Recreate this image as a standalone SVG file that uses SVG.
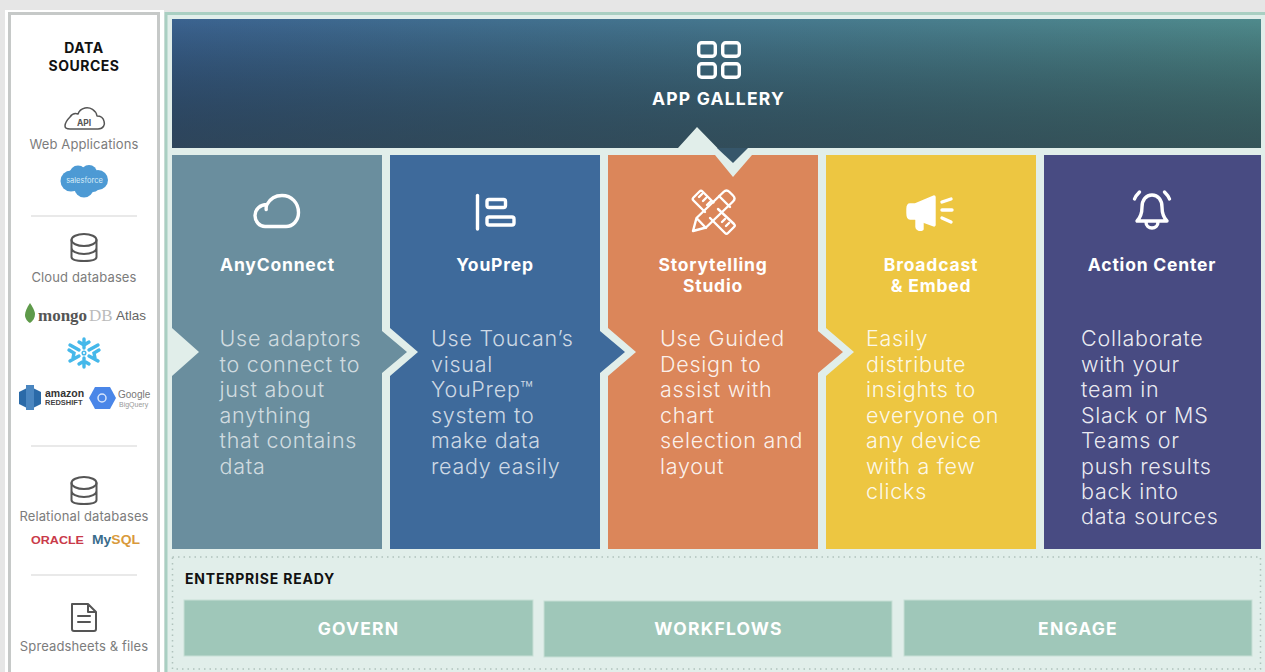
<svg xmlns="http://www.w3.org/2000/svg" width="1265" height="672" viewBox="0 0 1265 672">
<style>
text{font-family:"Inter","Liberation Sans",sans-serif}
.h{font-weight:700;fill:#fff;font-size:17.500px;text-anchor:middle;letter-spacing:.8px}
.b{font-weight:300;font-size:21.500px;fill:#fff;letter-spacing:.75px}
.d{font-size:13px;fill:#7c7c7c;text-anchor:middle;font-weight:400;letter-spacing:.12px}
.i{fill:none;stroke:#fff;stroke-width:3.400;stroke-linecap:round;stroke-linejoin:round}
.g{fill:none;stroke:#555;stroke-width:2;stroke-linecap:round;stroke-linejoin:round}
.sep{stroke:#e2e2e2;stroke-width:1.500}
.e{fill:#9fc7b9;stroke:#c8dfd6;stroke-width:1}
.et{font-weight:700;font-size:17.500px;fill:#fff;text-anchor:middle;letter-spacing:1.200px}
.ds{font-size:14px;font-weight:700;text-anchor:middle;fill:#111;letter-spacing:.5px}
.la{font-family:"Liberation Sans",sans-serif}
</style>
<defs>
<linearGradient id="gal" x1="0" y1="0" x2="0" y2="1"><stop offset="0" stop-color="#000" stop-opacity="0"/><stop offset="1" stop-color="#26333a" stop-opacity=".62"/></linearGradient>
<linearGradient id="galh" x1="0" y1="0" x2="1" y2="0"><stop offset="0" stop-color="#3b6390"/><stop offset="1" stop-color="#4f8a8c"/></linearGradient>
</defs>
<rect width="1265" height="672" fill="#e6e6e6"/>
<g id="data-sources">
<rect x="5" y="10" width="159" height="672" fill="#fff"/>
<rect x="9.500" y="13.500" width="149" height="665" fill="#fff" stroke="#c6c9c8" stroke-width="3"/>
<text class="ds" x="84" y="52.500">DATA</text>
<text class="ds" x="84" y="70.500">SOURCES</text>
<path class="g" style="stroke-width:1.500" d="M70 129h28c6 0 7-5 6-8-1-4-5-5-7-5-1-6-7-9-12-8-4 1-6 3-7 6-3-1-6 0-8 3-3 3-5 7-5 9 0 2 2 3 5 3z"/>
<text x="84" y="126" font-size="8.500" font-weight="700" text-anchor="middle" fill="#555">API</text>
<text class="d" x="84" y="148.500">Web Applications</text>
<g id="salesforce" fill="#4d9ad4"><circle cx="71" cy="181" r="10.500"/><circle cx="78" cy="174" r="8.500"/><circle cx="89" cy="173" r="8"/><circle cx="98" cy="180" r="10"/><circle cx="84" cy="188" r="9.500"/><circle cx="93" cy="185" r="7"/></g>
<text x="84.500" y="183" font-size="7.500" text-anchor="middle" fill="#d8ecf8">salesforce</text>
<line class="sep" x1="31" y1="216" x2="137" y2="216"/>
<g class="g"><ellipse cx="84" cy="240" rx="12.500" ry="6"/><path d="M71.500 240v17c0 3 5 4 12.500 4s12.500-1 12.500-4v-17M71.500 248c0 3 5 6 12.500 6s12.500-3 12.500-6"/></g>
<text class="d" x="84" y="282">Cloud databases</text>
<path d="M30 303c-3 4-5 9-5 12 0 4 3 7 5 8 3-2 5-5 5-9 0-3-3-8-5-11z" fill="#5e9a4a"/>
<text x="38" y="321" style="font-family:'Liberation Serif',serif" font-size="17" font-weight="700" fill="#555">mongo</text>
<text x="89" y="321" style="font-family:'Liberation Serif',serif" font-size="17" fill="#bbb">DB</text>
<text class="la" x="116" y="320" font-size="13.500" fill="#666">Atlas</text>
<g id="snowflake" stroke="#45b8ea" stroke-width="3.400" fill="none" stroke-linecap="round"><path d="M84 339v9M84 358v9M70 345l9 5M89 356l9 5M70 361l9-5M89 350l9-5M79 342l5 3 5-3M79 364l5-3 5 3M69 350l5 3-1 5M99 350l-5 3 1 5"/><circle cx="84" cy="353" r="1.800" stroke-width="1.500"/></g>
<g id="redshift"><path d="M19 392l8-4v20l-8-4zM41 392l-8-4v20l8-4z" fill="#2a6aa8"/><rect x="26" y="385" width="8" height="25" fill="#4a86c0"/></g>
<text class="la" x="45" y="397" font-size="10.500" font-weight="700" fill="#333">amazon</text>
<text class="la" x="45" y="405" font-size="7.500" font-weight="700" fill="#444">REDSHIFT</text>
<path d="M89 398l6-11h15l6 11-6 11H95z" fill="#4a86e8"/><circle cx="102" cy="398" r="4" fill="none" stroke="#d6e4fb" stroke-width="1.500"/>
<text class="la" x="118" y="398" font-size="10" fill="#777">Google</text>
<text class="la" x="119" y="407" font-size="7" fill="#999">BigQuery</text>
<line class="sep" x1="31" y1="446" x2="137" y2="446"/>
<g class="g"><ellipse cx="84" cy="483" rx="12.500" ry="6"/><path d="M71.500 483v17c0 3 5 4 12.500 4s12.500-1 12.500-4v-17M71.500 491c0 3 5 6 12.500 6s12.500-3 12.500-6"/></g>
<text class="d" x="84" y="520.500">Relational databases</text>
<text class="la" x="31" y="544" font-size="10.500" font-weight="700" fill="#c93a4a" textLength="53" lengthAdjust="spacingAndGlyphs">ORACLE</text>
<text class="la" x="92" y="544" font-size="13" font-weight="700" fill="#3b6d8c" textLength="48" lengthAdjust="spacingAndGlyphs">My<tspan fill="#d99a3c">SQL</tspan></text>
<line class="sep" x1="31" y1="575" x2="137" y2="575"/>
<path class="g" d="M73 604h15l8 8v17c0 1-1 2-2 2H74c-1 0-2-1-2-2v-25zM88 604v8h8M78 616h12M78 622h12"/>
<text class="d" x="84" y="650.500">Spreadsheets &amp; files</text>
</g>
<g id="main-panel">
<rect x="166" y="13.500" width="1110" height="670" fill="#e1eeea" stroke="#a9cfc2" stroke-width="3"/>
</g>
<g id="app-gallery">
<path d="M172 19H1261V148H172z" fill="url(#galh)"/>
<path d="M172 19H1261V148H172z" fill="url(#gal)"/>
<path d="M678 148L697 127 733 164 717 148z" fill="#e1eeea"/>
<path d="M717 148H748L733 163z" fill="#36566a"/>
<g class="i"><rect x="698.700" y="42.700" width="16.600" height="13.600" rx="3"/><rect x="722.700" y="42.700" width="16.600" height="13.600" rx="3"/><rect x="698.700" y="63.700" width="16.600" height="13.600" rx="3"/><rect x="722.700" y="63.700" width="16.600" height="13.600" rx="3"/></g>
<text x="718.500" y="104.500" font-size="17.500" font-weight="700" fill="#fff" text-anchor="middle" letter-spacing="1.200">APP GALLERY</text>
</g>
<g id="anyconnect">
<path d="M172 155H382V331L407 352 382 373V549H172V376L199 352 172 328z" fill="#6a8e9e"/>
<path class="i" d="M265 226.500h21c7 0 12.500-6 12.500-14 0-9.500-7-17-16.500-17-6.500 0-12 3.500-15 9-7 0-12 5-12 11 0 6 4.500 11 10 11zM267 204.500c-.8 1.500-1 3-.8 5"/>
<text class="h" x="277.500" y="270.500">AnyConnect</text>
<g class="b" fill-opacity=".7"><text x="219.500" y="346">Use adaptors</text><text x="219.500" y="372">to connect to</text><text x="219.500" y="397">just about</text><text x="219.500" y="423">anything</text><text x="219.500" y="448">that contains</text><text x="219.500" y="474">data</text></g>
</g>
<g id="youprep">
<path d="M390 155H600V331L625 352 600 373V549H390V376L418 352 390 328z" fill="#3e6a9b"/>
<g class="i"><path d="M477.500 195.500v33.500"/><rect x="487" y="199.500" width="18.500" height="8" rx="2"/><rect x="487" y="217" width="27" height="8" rx="2"/></g>
<text class="h" x="495" y="270.500">YouPrep</text>
<g class="b" fill-opacity=".75"><text x="431" y="346">Use Toucan’s</text><text x="431" y="372">visual</text><text x="431" y="397">YouPrep™</text><text x="431" y="423">system to</text><text x="431" y="448">make data</text><text x="431" y="474">ready easily</text></g>
</g>
<g id="storytelling">
<path d="M608 155H715L733 177 752 155H818V331L843 352 818 373V549H608V376L636 352 608 328z" fill="#db865a"/>
<g class="i" style="stroke-width:2.400"><path d="M693 231l3.500-13 27-26c2-2 4-2 6 0l3.500 3.500c2 2 2 4 0 6l-27 26zM696.500 218l9.500 10M719 196l11 11"/><path d="M705 212l-11.500-11.500c-1-1-1-2 0-3l6-6c1-1 2-1 3 0l11 11M699 197l3-3M703 201l3-3M707 205l3-3"/><path d="M718 209l16 15c1 1 1 2 0 3l-6 6c-1 1-2 1-3 0l-15-15M722 222l3-3M726 226l3-3"/></g>
<text class="h" x="713" y="270.500">Storytelling</text><text class="h" x="713" y="291.500">Studio</text>
<g class="b" fill-opacity=".9"><text x="660" y="346">Use Guided</text><text x="660" y="372">Design to</text><text x="660" y="397">assist with</text><text x="660" y="423">chart</text><text x="660" y="448">selection and</text><text x="660" y="474">layout</text></g>
</g>
<g id="broadcast">
<path d="M826 155H1036V549H826V376L854 352 826 328z" fill="#edc641"/>
<g class="i"><path d="M934 197l-19 8h-5c-2 0-2 2-2 4v4c0 2 0 5 2 5h5l19 7z" fill="#fff"/><path d="M917 218v9c0 2 3 3 5 2v-9" fill="#fff"/><path d="M942 202l9-3M942 210h10M942 218l9 4"/></g>
<text class="h" x="931" y="270.500">Broadcast</text><text class="h" x="931" y="291.500">&amp; Embed</text>
<g class="b" fill-opacity=".9"><text x="866" y="346">Easily</text><text x="866" y="372">distribute</text><text x="866" y="397">insights to</text><text x="866" y="423">everyone on</text><text x="866" y="448">any device</text><text x="866" y="474">with a few</text><text x="866" y="499">clicks</text></g>
</g>
<g id="action-center">
<rect x="1044" y="155" width="217" height="394" fill="#484b82"/>
<g class="i"><path d="M1137 221h30c-4-4-5-8-5-14 0-7-4-12-10-12s-10 5-10 12c0 6-1 10-5 14zM1146 222c0 4 3 6 6 6s6-2 6-6M1134.500 199c1-3 3-5 5-7M1169.500 199c-1-3-3-5-5-7"/></g>
<text class="h" x="1152" y="270.500">Action Center</text>
<g class="b" fill-opacity=".9"><text x="1081" y="346">Collaborate</text><text x="1081" y="372">with your</text><text x="1081" y="397">team in</text><text x="1081" y="423">Slack or MS</text><text x="1081" y="448">Teams or</text><text x="1081" y="474">push results</text><text x="1081" y="499">back into</text><text x="1081" y="524">data sources</text></g>
</g>
<g id="enterprise-ready">
<rect x="172.500" y="557" width="1088" height="112" fill="none" stroke="#b0c2bc" stroke-width="1.500" stroke-dasharray="1.500 4"/>
<text x="185" y="583.500" font-size="14" font-weight="700" fill="#111" letter-spacing=".8">ENTERPRISE READY</text>
</g>
<g id="govern"><rect class="e" x="184" y="600" width="349" height="56"/><text class="et" x="358.500" y="634.500">GOVERN</text></g>
<g id="workflows"><rect class="e" x="544" y="601" width="348" height="56"/><text class="et" x="718.500" y="634.500">WORKFLOWS</text></g>
<g id="engage"><rect class="e" x="904" y="600" width="348" height="56"/><text class="et" x="1078" y="634.500">ENGAGE</text></g>
</svg>
